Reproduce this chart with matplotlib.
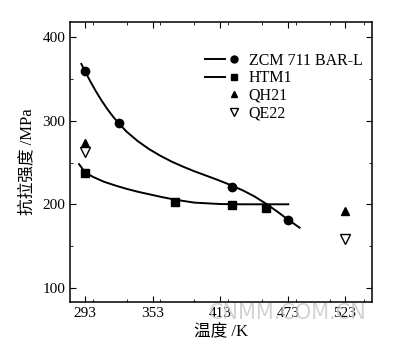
import matplotlib.pyplot as plt
from matplotlib.lines import Line2D
from matplotlib.legend_handler import HandlerTuple
from matplotlib.ticker import MultipleLocator

plt.rcParams['font.family'] = ['Liberation Serif', 'Noto Sans CJK SC']

# measured points
zcm_T = [293, 323, 423, 473]
zcm_s = [360, 297, 221, 181]
htm_T = [293, 373, 423, 453]
htm_s = [238, 203, 199, 196]
qh21_T = [293, 523]
qh21_s = [273, 192]
qe22_T = [293, 523]
qe22_s = [262, 158]

# fitted trend curves
zcm_fit_T = [290, 293, 298, 303, 308, 313, 318, 323, 330, 340, 350, 360, 370, 380,
             390, 400, 410, 423, 433, 443, 453, 463, 473, 483]
zcm_fit_s = [368, 360, 347, 335, 324, 314, 305, 297, 287, 275.5, 266, 258, 251, 245,
             239.5, 234.5, 229.5, 222.5, 216.5, 209.5, 201, 191.5, 181.5, 172]
htm_fit_T = [288, 293, 300, 310, 320, 330, 340, 350, 360, 373, 390, 413, 433, 453, 473]
htm_fit_s = [248, 239, 233, 227, 222.5, 218.5, 215, 212, 209, 205.5, 202, 200.3, 200, 200, 200]

xticks = [293, 353, 413, 473, 523]

fig = plt.figure(figsize=(4, 3.46), dpi=100)
ax = fig.add_axes([0.175, 0.127, 0.755, 0.809])

ax.plot(zcm_fit_T, zcm_fit_s, color='black', lw=1.4)
ax.plot(htm_fit_T, htm_fit_s, color='black', lw=1.4)
ax.plot(zcm_T, zcm_s, 'o', color='black', ms=6)
ax.plot(htm_T, htm_s, 's', color='black', ms=5.5)
ax.plot(qh21_T, qh21_s, '^', color='black', ms=6)
ax.plot(qe22_T, qe22_s, 'v', mfc='white', mec='black', ms=6.5)

ax.set_xlim(280, 547)
ax.set_ylim(83, 418)
ax.set_xticks(xticks)
ax.set_yticks([100, 200, 300, 400])
ax.xaxis.set_minor_locator(MultipleLocator(30))
ax.yaxis.set_minor_locator(MultipleLocator(50))
ax.tick_params(which='both', direction='in', top=True, right=True, labelsize=11)
ax.tick_params(which='major', length=4)
ax.tick_params(which='minor', length=2.5)
for s in ax.spines.values():
    s.set_linewidth(1.1)

ax.set_xlabel('温度 /K', fontsize=12, labelpad=3)
ax.set_ylabel('抗拉强度 /MPa', fontsize=12, labelpad=5)

ln = Line2D([], [], color='black', lw=1.4)
blank = Line2D([], [], linestyle='none')
handles = [
    (ln, Line2D([], [], marker='o', color='black', ls='none', ms=5)),
    (ln, Line2D([], [], marker='s', color='black', ls='none', ms=4.5)),
    (blank, Line2D([], [], marker='^', color='black', ls='none', ms=5)),
    (blank, Line2D([], [], marker='v', mfc='white', mec='black', ls='none', ms=5.5)),
]
labels = ['ZCM 711 BAR-L', 'HTM1', 'QH21', 'QE22']
ax.legend(handles, labels, handler_map={tuple: HandlerTuple(ndivide=None, pad=0)},
          loc='upper right', bbox_to_anchor=(1.0, 0.925), frameon=False,
          fontsize=11.5, handlelength=2.4, handletextpad=0.3, labelspacing=0.1,
          borderaxespad=0.2)

fig.text(0.72, 0.095, 'CNMM.COM.CN', color='#c8c8c8', fontsize=15,
         family='DejaVu Sans', ha='center', va='center', alpha=0.8)

fig.savefig('out.png', dpi=100)
